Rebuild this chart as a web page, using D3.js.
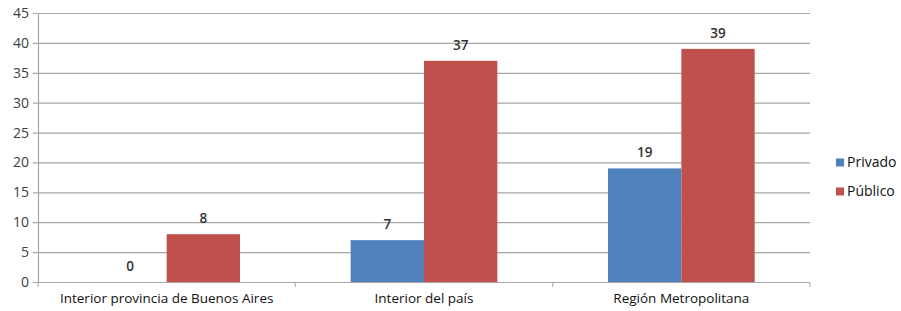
<!DOCTYPE html>
<html>
<head>
<meta charset="utf-8">
<script src="https://cdn.jsdelivr.net/npm/d3@7"></script>
<style>
  body { margin: 0; background: #fff; }
  text { font-family: "Open Sans", "Liberation Sans", sans-serif; fill: #404040; }
</style>
</head>
<body>
<div id="chart"></div>
<script>
// data
const categories = ['Interior provincia de Buenos Aires', 'Interior del país', 'Región Metropolitana']
const seriesNames = ['Privado', 'Público']
const privado = [0, 7, 19]
const publico = [8, 37, 39]
const yTicks = [0, 5, 10, 15, 20, 25, 30, 35, 40, 45]
const colors = ['#4F81BD', '#C0504D']

const width = 901, height = 311
const margin = {top: 13, right: 91, bottom: 29, left: 38}
const w = width - margin.left - margin.right
const h = height - margin.top - margin.bottom

const svg = d3.select('#chart').append('svg')
    .attr('width', width)
    .attr('height', height)
  .append('g')
    .attr('transform', `translate(${margin.left},${margin.top})`)

const x = d3.scaleBand().domain(categories).range([0, w])
const y = d3.scaleLinear().domain([0, 45]).range([h, 0])
const inner = d3.scaleBand().domain(seriesNames).range([x.bandwidth() * 0.215, x.bandwidth() * 0.785])

// gridlines
svg.append('g')
  .selectAll('line')
  .data(yTicks)
  .join('line')
    .attr('x1', -5).attr('x2', w)
    .attr('y1', d => y(d) + 0.5).attr('y2', d => y(d) + 0.5)
    .attr('stroke', '#a6a6a6')
    .attr('stroke-width', 1.2)

// y axis
const yAxis = svg.append('g')
  .call(d3.axisLeft(y).tickValues(yTicks).tickSize(0).tickPadding(9))
yAxis.select('.domain').attr('stroke', '#a6a6a6').attr('stroke-width', 1.2)
yAxis.selectAll('text').style('font-size', '14px')

// x axis
const xAxis = svg.append('g')
  .attr('transform', `translate(0,${h})`)
  .call(d3.axisBottom(x).tickSize(0).tickPadding(11))
xAxis.select('.domain').remove()
xAxis.selectAll('text').style('font-size', '13.5px').style('fill', '#111')
svg.append('g')
  .selectAll('line')
  .data(d3.range(categories.length + 1))
  .join('line')
    .attr('x1', d => d * x.step()).attr('x2', d => d * x.step())
    .attr('y1', h).attr('y2', h + 5)
    .attr('stroke', '#a6a6a6')

// bars
const rows = categories.map((c, i) => ({cat: c, values: [privado[i], publico[i]]}))
const groups = svg.append('g')
  .selectAll('g')
  .data(rows)
  .join('g')
    .attr('transform', d => `translate(${x(d.cat)},0)`)

groups.selectAll('rect')
  .data(d => d.values.map((v, j) => ({s: seriesNames[j], v, j})))
  .join('rect')
    .attr('x', d => inner(d.s))
    .attr('width', inner.bandwidth())
    .attr('y', d => y(d.v))
    .attr('height', d => h - y(d.v))
    .attr('fill', d => colors[d.j])

groups.selectAll('text.lbl')
  .data(d => d.values.map((v, j) => ({s: seriesNames[j], v, j})))
  .join('text')
    .attr('class', 'lbl')
    .attr('x', d => inner(d.s) + inner.bandwidth() / 2)
    .attr('y', d => y(d.v) - 11)
    .attr('text-anchor', 'middle')
    .style('font-size', '13.5px')
    .style('font-weight', '600')
    .style('fill', '#333')
    .text(d => d.v)

// legend
const legend = svg.append('g')
  .attr('transform', `translate(${w + 26},${y(20)})`)
const li = legend.selectAll('g')
  .data(seriesNames)
  .join('g')
    .attr('transform', (d, i) => `translate(0,${i * 29})`)
li.append('rect')
  .attr('x', 0).attr('y', -4)
  .attr('width', 8).attr('height', 8)
  .attr('fill', (d, i) => colors[i])
li.append('text')
  .attr('x', 11).attr('y', 0)
  .attr('dy', '0.35em')
  .style('font-size', '14px')
  .style('fill', '#111')
  .text(d => d)
</script>
</body>
</html>
